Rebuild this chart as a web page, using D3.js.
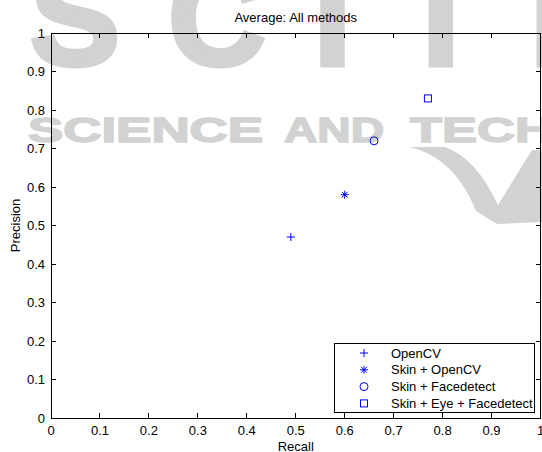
<!DOCTYPE html>
<html>
<head>
<meta charset="utf-8">
<script src="https://cdn.jsdelivr.net/npm/d3@7"></script>
<style>
  body { margin: 0; background: #fff; }
  svg { display: block; font-family: "Liberation Sans", Arial, sans-serif; }
</style>
</head>
<body>
<svg id="chart"></svg>
<script>
const methods = ["OpenCV", "Skin + OpenCV", "Skin + Facedetect", "Skin + Eye + Facedetect"];
const symbols = ["plus", "star", "circle", "square"];
const recall = [0.49, 0.60, 0.66, 0.77];
const precision = [0.47, 0.58, 0.72, 0.83];
const ticks = [0, 0.1, 0.2, 0.3, 0.4, 0.5, 0.6, 0.7, 0.8, 0.9, 1];

const width = 542;
const height = 452;
const margin = { top: 33, right: 1.5, bottom: 34, left: 51 };
const blue = "#0000ff";

const svg = d3.select("#chart")
  .attr("width", width)
  .attr("height", height);

// watermark in the background
const wm = svg.append("g").attr("fill", "#d2d2d2").attr("stroke", "#d2d2d2");
wm.append("text")
  .attr("x", 30).attr("y", 65)
  .attr("font-size", 135).attr("font-weight", "bold")
  .attr("stroke-width", 5)
  .attr("textLength", 590).attr("lengthAdjust", "spacing")
  .text("SCITE");
[["SCIENCE", 28, 235], ["AND", 284, 100], ["TECHNOLOGY", 410, 370]].forEach(([w, x, len]) => {
  wm.append("text")
    .attr("x", x).attr("y", 142)
    .attr("font-size", 35).attr("font-weight", "bold")
    .attr("stroke-width", 1.5)
    .attr("textLength", len).attr("lengthAdjust", "spacingAndGlyphs")
    .text(w);
});
wm.append("path")
  .attr("stroke", "none")
  .attr("d", "M410,147 Q455,158 476,211 L497,224 L542,222 L542,150 L532,150 L498,205 Q476,158 445,147 Z");

const x = d3.scaleLinear().domain([0, 1]).range([margin.left, width - margin.right]);
const y = d3.scaleLinear().domain([0, 1]).range([height - margin.bottom, margin.top]);

// axes box with inward ticks on all sides
const axes = svg.append("g").attr("shape-rendering", "crispEdges");
axes.append("rect")
  .attr("x", x(0)).attr("y", y(1))
  .attr("width", x(1) - x(0)).attr("height", y(0) - y(1))
  .attr("fill", "none").attr("stroke", "#000");

const tl = 5;
axes.selectAll(".xt").data(ticks.slice(1, -1)).enter().append("path")
  .attr("d", d => `M${x(d)},${y(0)}v${-tl}M${x(d)},${y(1)}v${tl}`)
  .attr("stroke", "#000");
axes.selectAll(".yt").data(ticks.slice(1, -1)).enter().append("path")
  .attr("d", d => `M${x(0)},${y(d)}h${tl}M${x(1)},${y(d)}h${-tl}`)
  .attr("stroke", "#000");

const fs = 13;
svg.selectAll(".xl").data(ticks).enter().append("text")
  .attr("x", d => x(d)).attr("y", y(0) + 17)
  .attr("text-anchor", "middle").attr("font-size", fs)
  .text(d => d3.format("~g")(d));
svg.selectAll(".yl").data(ticks).enter().append("text")
  .attr("x", x(0) - 6).attr("y", d => y(d) + 4.5)
  .attr("text-anchor", "end").attr("font-size", fs)
  .text(d => d3.format("~g")(d));

svg.append("text")
  .attr("x", (x(0) + x(1)) / 2).attr("y", 22)
  .attr("text-anchor", "middle").attr("font-size", fs)
  .text("Average: All methods");
svg.append("text")
  .attr("x", (x(0) + x(1)) / 2).attr("y", 451)
  .attr("text-anchor", "middle").attr("font-size", fs)
  .text("Recall");
svg.append("text")
  .attr("transform", `translate(19.5, ${(y(0) + y(1)) / 2}) rotate(-90)`)
  .attr("text-anchor", "middle").attr("font-size", fs)
  .text("Precision");

// MATLAB-like markers
function marker(g, type) {
  const r = 4;
  g.attr("fill", "none").attr("stroke", blue).attr("stroke-width", 1);
  if (type === "plus") {
    g.append("path").attr("d", `M${-r},0H${r}M0,${-r}V${r}`);
  } else if (type === "star") {
    const k = r * 0.72;
    g.append("path").attr("d", `M${-r},0H${r}M0,${-r}V${r}M${-k},${-k}L${k},${k}M${-k},${k}L${k},${-k}`);
  } else if (type === "circle") {
    g.append("circle").attr("r", r);
  } else {
    g.append("rect").attr("x", -3.5).attr("y", -3.5).attr("width", 7).attr("height", 7);
  }
}

methods.forEach((m, i) => {
  const g = svg.append("g").attr("transform", `translate(${x(recall[i])},${y(precision[i])})`);
  marker(g, symbols[i]);
});

// legend
const lg = svg.append("g").attr("transform", "translate(334,343)");
lg.append("rect")
  .attr("width", 200).attr("height", 69)
  .attr("fill", "#fff").attr("stroke", "#000")
  .attr("shape-rendering", "crispEdges");
methods.forEach((m, i) => {
  const cy = 10 + i * 16.8;
  marker(lg.append("g").attr("transform", `translate(30,${cy})`), symbols[i]);
  lg.append("text")
    .attr("x", 57).attr("y", cy + 4.5)
    .attr("font-size", fs)
    .text(m);
});
</script>
</body>
</html>
